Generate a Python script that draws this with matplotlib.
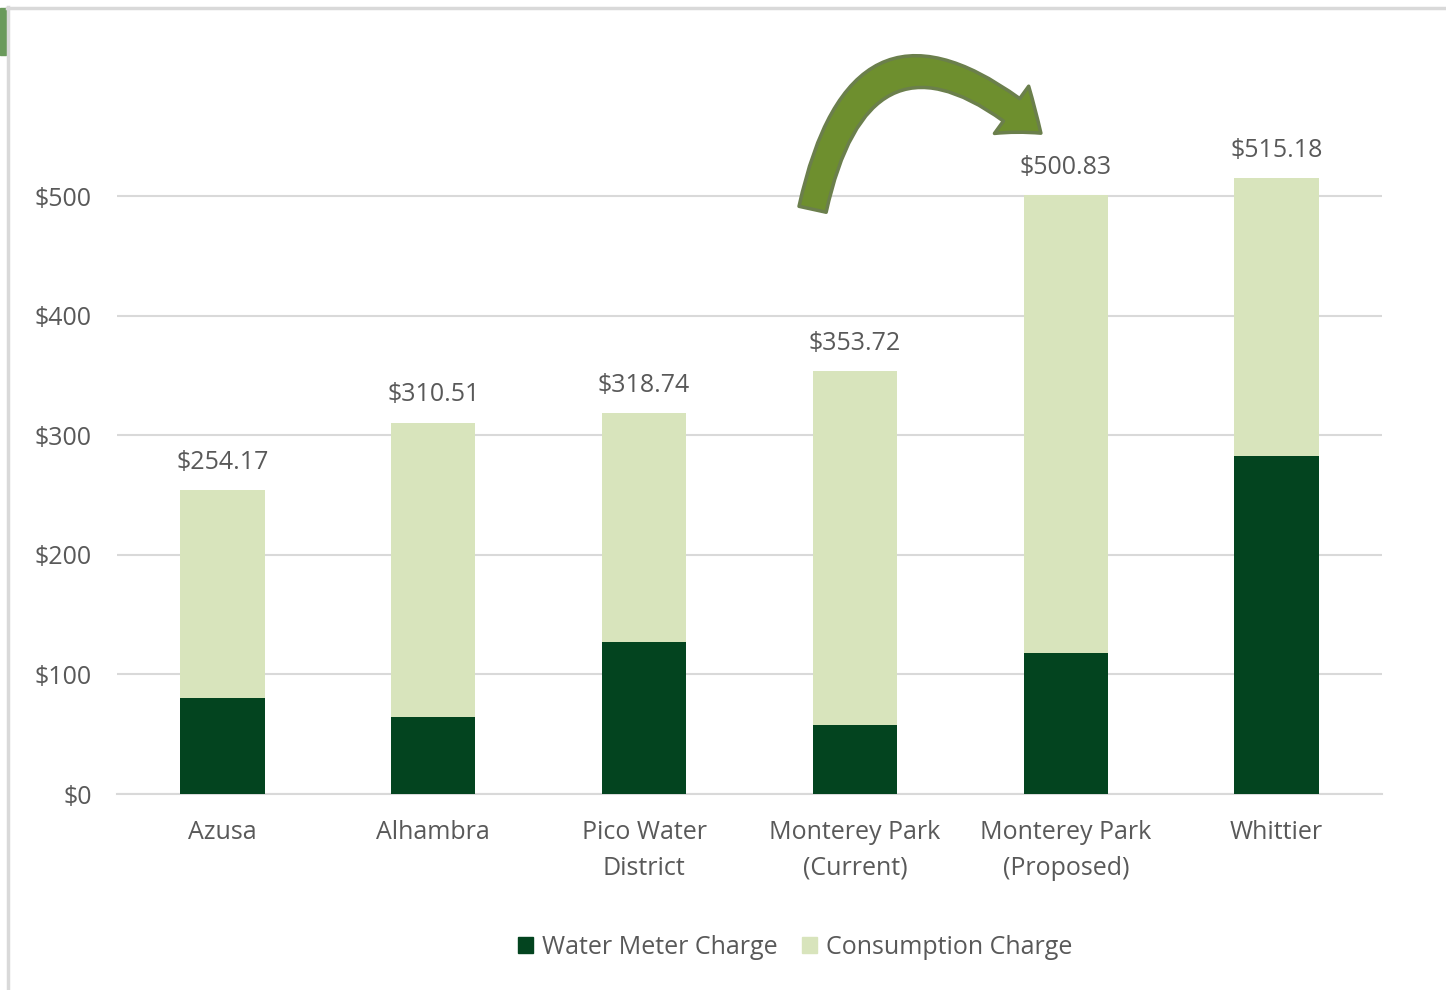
import matplotlib
matplotlib.use("Agg")
import matplotlib.pyplot as plt
from matplotlib.patches import FancyArrowPatch, Rectangle
from matplotlib.lines import Line2D

categories = ["Azusa", "Alhambra", "Pico Water\nDistrict", "Monterey Park\n(Current)",
              "Monterey Park\n(Proposed)", "Whittier"]
totals = [254.17, 310.51, 318.74, 353.72, 500.83, 515.18]
meter_charge = [80, 64, 127, 58, 118, 283]
consumption_charge = [t - m for t, m in zip(totals, meter_charge)]
yticks = [0, 100, 200, 300, 400, 500]
ytick_labels = ["$0", "$100", "$200", "$300", "$400", "$500"]
total_labels = ["$254.17", "$310.51", "$318.74", "$353.72", "$500.83", "$515.18"]

DARK = "#03441F"
LIGHT = "#D8E4BC"
TXT = "#595959"
GRID = "#D9D9D9"
FONT = ["Open Sans", "DejaVu Sans"]
plt.rcParams["font.family"] = FONT
FS = 18

W, H = 1446, 990
fig = plt.figure(figsize=(W / 100, H / 100), dpi=100)
ax_left, ax_right = 117, 1382
y0_px, y500_px = 794, 196
top_px = 100
px_per_unit = (y0_px - y500_px) / 500
ymax = (y0_px - top_px) / px_per_unit
ax = fig.add_axes([ax_left / W, (H - y0_px) / H, (ax_right - ax_left) / W, (y0_px - top_px) / H])

x = list(range(len(categories)))
bw = 0.40
ax.bar(x, meter_charge, width=bw, color=DARK, label="Water Meter Charge", zorder=3)
ax.bar(x, consumption_charge, width=bw, bottom=meter_charge, color=LIGHT,
       label="Consumption Charge", zorder=3)

for xi, t, lab in zip(x, totals, total_labels):
    ax.annotate(lab, (xi, t), xytext=(0, 11), textcoords="offset points",
                ha="center", va="bottom", fontsize=FS, color=TXT)

ax.set_xlim(-0.5, len(categories) - 0.5)
ax.set_ylim(0, ymax)
ax.set_yticks(yticks)
ax.set_yticklabels(ytick_labels)
ax.set_xticks(x)
ax.set_xticklabels(categories, linespacing=1.55)
ax.tick_params(axis="y", length=0, pad=18, labelsize=FS, labelcolor=TXT)
ax.tick_params(axis="x", length=0, pad=19, labelsize=FS, labelcolor=TXT)
ax.grid(axis="y", color=GRID, linewidth=1.5, zorder=0)
for s in ["top", "right", "left"]:
    ax.spines[s].set_visible(False)
ax.spines["bottom"].set_color(GRID)
ax.spines["bottom"].set_linewidth(1.5)

handles = [Rectangle((0, 0), 1, 1, color=DARK), Rectangle((0, 0), 1, 1, color=LIGHT)]
fig.legend(handles, ["Water Meter Charge", "Consumption Charge"], loc="center",
           bbox_to_anchor=(795 / W, 1 - 947 / H), ncol=2, frameon=False,
           fontsize=FS, labelcolor=TXT, handlelength=0.6, handleheight=0.6,
           handletextpad=0.35, columnspacing=1.0)

# curved arrow
arrow = FancyArrowPatch((812 / W, 1 - 212 / H), (1043 / W, 1 - 135 / H),
                        transform=fig.transFigure,
                        connectionstyle="arc3,rad=-0.85",
                        arrowstyle="simple,head_width=42,head_length=27,tail_width=20",
                        facecolor="#6E8F2E", edgecolor="#6B7F4C", linewidth=2.5,
                        mutation_scale=1, zorder=5)
fig.patches.append(arrow)

# frame decorations
fig.add_artist(Line2D([7 / W, 1], [1 - 7.5 / H, 1 - 7.5 / H], transform=fig.transFigure,
                      color=GRID, linewidth=2.5))
fig.add_artist(Line2D([7.5 / W, 7.5 / W], [0, 1 - 7 / H], transform=fig.transFigure,
                      color=GRID, linewidth=2.5))
fig.add_artist(Rectangle((0, 1 - 55 / H), 6 / W, 47 / H, transform=fig.transFigure,
                         color="#6A9A5B"))

fig.savefig("out.png", dpi=100)
